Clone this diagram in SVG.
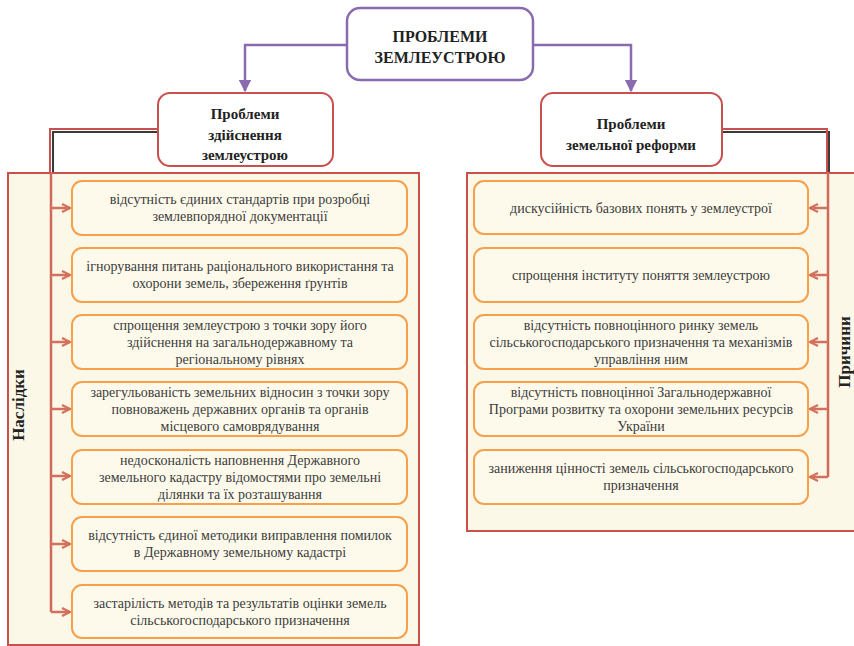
<svg xmlns="http://www.w3.org/2000/svg" width="854" height="646" viewBox="0 0 854 646">
<style>
.bg{fill:#ffffff}
.panel{fill:#fbf8e7;stroke:#c9504f;stroke-width:2}
.item{fill:#fdfaeb;stroke:#f6a04c;stroke-width:2}
.top{fill:#ffffff;stroke:#8b6bb0;stroke-width:2.5}
.sub{fill:#ffffff;stroke:#c9504f;stroke-width:2}
.t{font-family:"Liberation Serif","Times New Roman",serif;font-size:14px;fill:#3c3c3c;text-anchor:middle}
.h{font-family:"Liberation Serif","Times New Roman",serif;font-weight:bold;font-size:15px;fill:#222;text-anchor:middle}
.ht{font-family:"Liberation Serif","Times New Roman",serif;font-weight:bold;font-size:16px;fill:#222;text-anchor:middle}
.side{font-family:"Liberation Serif","Times New Roman",serif;font-weight:bold;font-size:17px;fill:#222;text-anchor:middle}
.pur{fill:none;stroke:#8b6bb0;stroke-width:2.5}
.dark{fill:none;stroke:#3a3a3a;stroke-width:2}
.red{fill:none;stroke:#c9504f;stroke-width:2}
.vline{fill:none;stroke:#cf6a5a;stroke-width:2.5}
.arr{fill:none;stroke:#d4705e;stroke-width:2.5}
</style>
<defs>
<marker id="ap" viewBox="0 0 10 10" refX="9" refY="5" markerWidth="5" markerHeight="5" orient="auto" markerUnits="strokeWidth">
<path d="M0,0 L10,5 L0,10 z" fill="#8b6bb0"/>
</marker>
<marker id="ar" viewBox="0 0 10 10" refX="9" refY="5" markerWidth="4" markerHeight="4" orient="auto" markerUnits="strokeWidth">
<path d="M1,1 L9,5 L1,9" fill="none" stroke="#d4705e" stroke-width="2.2"/>
</marker>
</defs>
<rect class="bg" x="0" y="0" width="854" height="646"/>

<g id="panel-left"><rect class="panel" x="8" y="173" width="411" height="472"/>
<text class="side" transform="translate(24,405) rotate(-90)">Наслідки</text></g>
<g id="panel-right"><rect class="panel" x="467" y="173" width="400" height="358"/>
<text class="side" transform="translate(850,352) rotate(-90)">Причини</text></g>

<g id="connectors">
<path class="pur" d="M347,45 H245 V91" marker-end="url(#ap)"/>
<path class="pur" d="M533,45 H631 V91" marker-end="url(#ap)"/>
<path class="dark" d="M158,132 H53 V172"/>
<path class="red" d="M158,129 H50 V172"/>
<path class="vline" d="M51,172 V612"/>
<path class="dark" d="M722,132 H829 V172"/>
<path class="red" d="M722,129 H827 V172"/>
<path class="vline" d="M828,172 V477"/>
<path class="arr" d="M51,208 H70" marker-end="url(#ar)"/>
<path class="arr" d="M51,275 H70" marker-end="url(#ar)"/>
<path class="arr" d="M51,342 H70" marker-end="url(#ar)"/>
<path class="arr" d="M51,409 H70" marker-end="url(#ar)"/>
<path class="arr" d="M51,476 H70" marker-end="url(#ar)"/>
<path class="arr" d="M51,544 H70" marker-end="url(#ar)"/>
<path class="arr" d="M51,612 H70" marker-end="url(#ar)"/>
<path class="arr" d="M828,208 H810" marker-end="url(#ar)"/>
<path class="arr" d="M828,275 H810" marker-end="url(#ar)"/>
<path class="arr" d="M828,342 H810" marker-end="url(#ar)"/>
<path class="arr" d="M828,409 H810" marker-end="url(#ar)"/>
<path class="arr" d="M828,477 H810" marker-end="url(#ar)"/>
</g>

<g id="node-top"><rect class="top" x="347" y="8" width="186" height="72" rx="13"/>
<text class="ht" x="440" y="42">ПРОБЛЕМИ</text><text class="ht" x="440" y="63">ЗЕМЛЕУСТРОЮ</text></g>
<g id="node-left"><rect class="sub" x="158" y="93" width="175" height="73" rx="12"/>
<text class="h" x="245" y="119">Проблеми</text><text class="h" x="245" y="140">здійснення</text><text class="h" x="245" y="160">землеустрою</text></g>
<g id="node-right"><rect class="sub" x="541" y="93" width="181" height="73" rx="12"/>
<text class="h" x="631" y="129">Проблеми</text><text class="h" x="631" y="150">земельної реформи</text></g>

<g id="l1"><rect class="item" x="72" y="181" width="335" height="54" rx="10"/>
<text class="t" x="240" y="204">відсутність єдиних стандартів при розробці</text><text class="t" x="240" y="221">землевпорядної документації</text></g>
<g id="l2"><rect class="item" x="72" y="248" width="335" height="54" rx="10"/>
<text class="t" x="240" y="271">ігнорування питань раціонального використання та</text><text class="t" x="240" y="288">охорони земель, збереження ґрунтів</text></g>
<g id="l3"><rect class="item" x="72" y="315" width="335" height="54" rx="10"/>
<text class="t" x="240" y="330">спрощення землеустрою з точки зору його</text><text class="t" x="240" y="347">здійснення на загальнодержавному та</text><text class="t" x="240" y="364">регіональному рівнях</text></g>
<g id="l4"><rect class="item" x="72" y="382" width="335" height="54" rx="10"/>
<text class="t" x="240" y="397">зарегульованість земельних відносин з точки зору</text><text class="t" x="240" y="414">повноважень державних органів та органів</text><text class="t" x="240" y="431">місцевого самоврядування</text></g>
<g id="l5"><rect class="item" x="72" y="450" width="335" height="54" rx="10"/>
<text class="t" x="240" y="465">недосконалість наповнення Державного</text><text class="t" x="240" y="482">земельного кадастру відомостями про земельні</text><text class="t" x="240" y="499">ділянки та їх розташування</text></g>
<g id="l6"><rect class="item" x="72" y="517" width="335" height="54" rx="10"/>
<text class="t" x="240" y="540">відсутність єдиної методики виправлення помилок</text><text class="t" x="240" y="557">в Державному земельному кадастрі</text></g>
<g id="l7"><rect class="item" x="72" y="585" width="335" height="53" rx="10"/>
<text class="t" x="240" y="608">застарілість методів та результатів оцінки земель</text><text class="t" x="240" y="625">сільськогосподарського призначення</text></g>

<g id="r1"><rect class="item" x="474" y="181" width="334" height="53" rx="10"/>
<text class="t" x="641" y="213">дискусійність базових понять у землеустрої</text></g>
<g id="r2"><rect class="item" x="474" y="248" width="334" height="54" rx="10"/>
<text class="t" x="641" y="280">спрощення інституту поняття землеустрою</text></g>
<g id="r3"><rect class="item" x="474" y="315" width="334" height="54" rx="10"/>
<text class="t" x="641" y="330">відсутність повноцінного ринку земель</text><text class="t" x="641" y="347">сільськогосподарського призначення та механізмів</text><text class="t" x="641" y="364">управління ним</text></g>
<g id="r4"><rect class="item" x="474" y="382" width="334" height="54" rx="10"/>
<text class="t" x="641" y="397">відсутність повноцінної Загальнодержавної</text><text class="t" x="641" y="414">Програми розвитку та охорони земельних ресурсів</text><text class="t" x="641" y="431">України</text></g>
<g id="r5"><rect class="item" x="474" y="450" width="334" height="54" rx="10"/>
<text class="t" x="641" y="473">заниження цінності земель сільськогосподарського</text><text class="t" x="641" y="490">призначення</text></g>
</svg>
